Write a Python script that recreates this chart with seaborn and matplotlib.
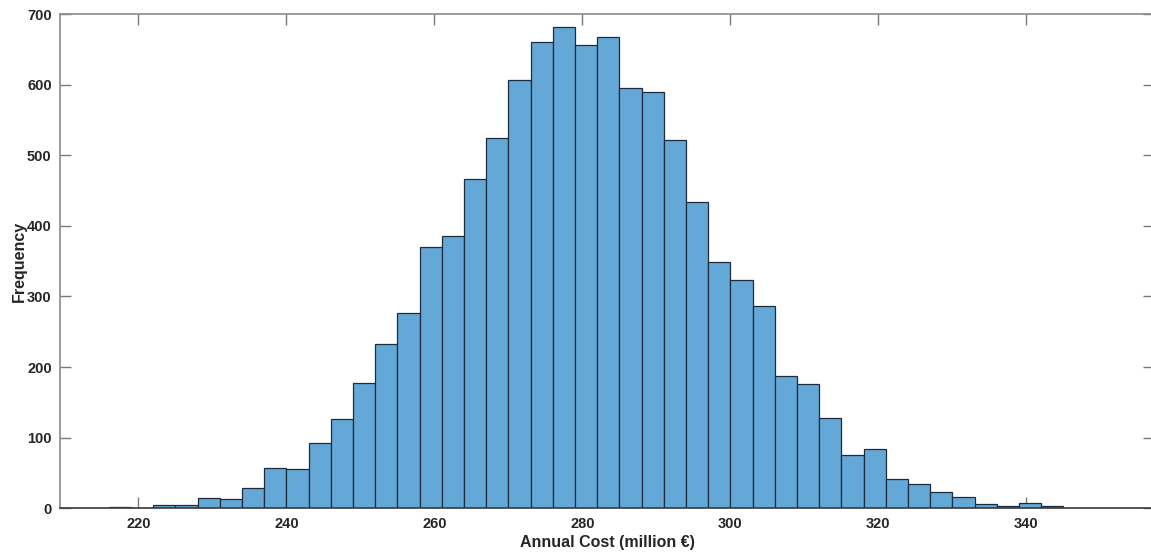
import numpy as np
import matplotlib
matplotlib.use("Agg")
import matplotlib.pyplot as plt
import seaborn as sns

# bin edges (width 3, from 216 to 345) and counts
bin_edges = list(range(216, 346, 3))
counts = [2, 0, 5, 4, 14, 13, 29, 57, 55, 93,
          126, 177, 232, 276, 370, 386, 466, 525, 607, 661,
          681, 656, 668, 595, 589, 521, 434, 349, 323, 286,
          188, 176, 128, 75, 84, 41, 34, 23, 16, 6,
          3, 7, 3]
bin_centers = [e + 1.5 for e in bin_edges[:-1]]

x_ticks = [220, 240, 260, 280, 300, 320, 340]
y_ticks = [0, 100, 200, 300, 400, 500, 600, 700]

sns.set_theme(style="white")
plt.rcParams['font.family'] = ['Liberation Sans', 'DejaVu Sans']

fig = plt.figure(figsize=(11.51, 5.54), dpi=100)
# right edge of the box sits just outside the picture, as in the reference
ax = fig.add_axes([60 / 1151, 1 - 508.3 / 554, 1094 / 1151, (508.3 - 14) / 554])

sns.histplot(x=bin_centers, weights=counts, bins=bin_edges, ax=ax,
             color='#64a8d8', alpha=1.0, edgecolor='#1e2b3a', linewidth=0.9)

ax.set_xlim(209.4, 209.4 + 1094 / 7.4)
ax.set_ylim(0, 700)
ax.set_xticks(x_ticks)
ax.set_yticks(y_ticks)

# matlab-like box with inward ticks on all sides
for side in ['top', 'left', 'right']:
    ax.spines[side].set_color('#8a8a8a')
    ax.spines[side].set_linewidth(1.2)
ax.spines['bottom'].set_color('#3a3a3a')
ax.spines['bottom'].set_linewidth(1.2)
ax.tick_params(axis='both', direction='in', length=8, width=1.0, color='#7a7a7a',
               top=True, right=True, bottom=True, left=True,
               labelsize=10.5, labelcolor='#262626', pad=6)
for lbl in ax.get_xticklabels() + ax.get_yticklabels():
    lbl.set_fontweight('bold')

ax.set_xlabel('Annual Cost (million €)', fontsize=11.5, fontweight='bold', color='#262626', labelpad=3)
ax.set_ylabel('Frequency', fontsize=11.5, fontweight='bold', color='#262626', labelpad=0)

fig.savefig('out.png', dpi=100)
plt.close(fig)
